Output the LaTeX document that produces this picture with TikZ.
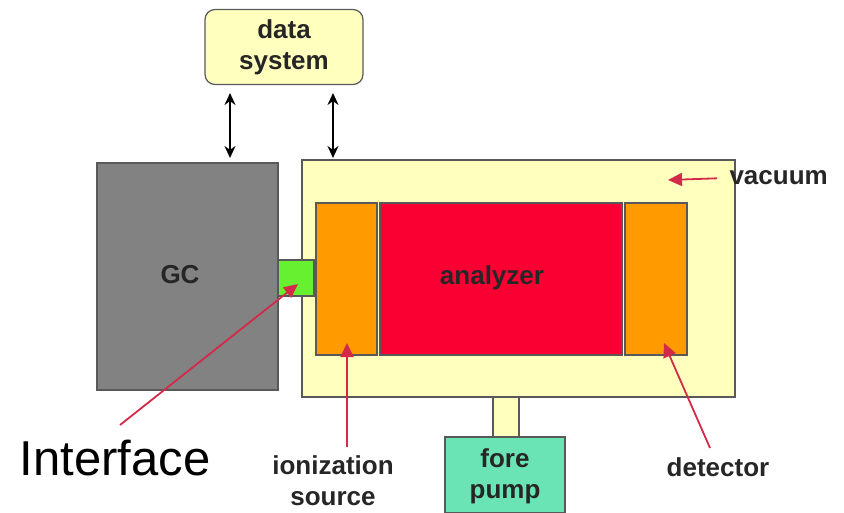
\documentclass[tikz,border=0pt]{standalone}
\usepackage{fontspec}
\setmainfont{Liberation Sans}
\usetikzlibrary{arrows.meta}

\definecolor{paleyellow}{HTML}{FFFFBE}
\definecolor{gcgray}{HTML}{828282}
\definecolor{ifgreen}{HTML}{66F030}
\definecolor{ionorange}{HTML}{FF9A00}
\definecolor{anared}{HTML}{FA0032}
\definecolor{pumpgreen}{HTML}{6AE4B4}
\definecolor{pointred}{HTML}{D42A4A}

\tikzset{
  box/.style={draw=black!65, line width=1.2pt, inner sep=0pt},
  lab/.style={font=\bfseries\fontsize{26}{31}\selectfont, align=center, text=black!85},
  link/.style={{Stealth[length=12pt,width=11pt]}-{Stealth[length=12pt,width=11pt]}, line width=1.8pt},
  pointer/.style={-{Triangle[length=14pt,width=13pt]}, draw=pointred, line width=1.8pt}
}

\begin{document}
\begin{tikzpicture}[x=1pt,y=-1pt]
      \useasboundingbox (0,0) rectangle (844,513);

      % top unit and the two boxes underneath
      \node[box, fill=paleyellow, rounded corners=10pt, minimum width=158pt, minimum height=75pt] (datasys) at (284,47) {};
      \node[lab] at (datasys) {data\\system};
      \node[box, fill=gcgray, minimum width=181pt, minimum height=227pt] (gc) at (187.5,276.5) {};
      \node[lab] at (180,275) {GC};
      \node[box, fill=paleyellow, minimum width=433pt, minimum height=237pt] (vac) at (518.5,278.5) {};

      % inside the vacuum
      \node[box, fill=ionorange, minimum width=61pt, minimum height=152pt] (ion) at (346.5,279) {};
      \node[box, fill=anared, minimum width=242pt, minimum height=152pt] (ana) at (501,279) {};
      \node[lab] at (492,278) {analyzer};
      \node[box, fill=ionorange, minimum width=62pt, minimum height=152pt] (det) at (656,279) {};
      \node[box, fill=ifgreen, minimum width=36pt, minimum height=36pt] (iface) at (296,278) {};

      % pump
      \node[box, fill=paleyellow, minimum width=26pt, minimum height=40pt] (pipe) at (506,417) {};
      \node[box, fill=pumpgreen, minimum width=120pt, minimum height=76pt] (pump) at (505,475) {};
      \node[lab] at (505,476) {fore\\pump};

      % links to data system
      \coordinate (l1) at (230,93);
      \coordinate (l2) at (230,158);
      \coordinate (r1) at (333,93);
      \coordinate (r2) at (333,158);
      \draw[link] (l1) -- (l2);
      \draw[link] (r1) -- (r2);

      % labels with pointers
      \node[lab, anchor=west] (vaclab) at (726,178) {vacuum};
      \coordinate (vacpt) at (668,180);
      \draw[pointer, shorten <=9pt] (vaclab.west) -- (vacpt);

      \node[font=\fontsize{49}{58}\selectfont] (iflab) at (115,458) {Interface};
      \coordinate (iftail) at (120,425);
      \coordinate (ifpt) at (298,284);
      \draw[pointer] (iftail) -- (ifpt);

      \node[lab] (ionlab) at (333,481) {ionization\\source};
      \coordinate (iontail) at (347,447);
      \coordinate (ionpt) at (347,343);
      \draw[pointer] (iontail) -- (ionpt);

      \node[lab] (detlab) at (718,467) {detector};
      \coordinate (dettail) at (710,448);
      \coordinate (detpt) at (664,343);
      \draw[pointer] (dettail) -- (detpt);
\end{tikzpicture}
\end{document}
